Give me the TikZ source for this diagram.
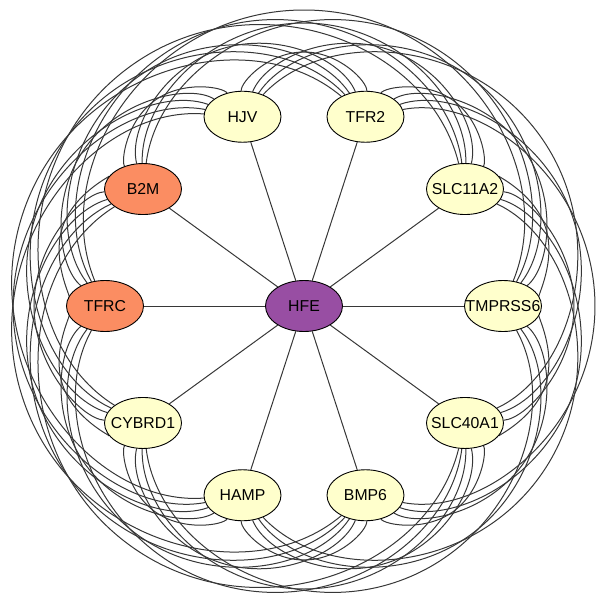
\documentclass[tikz,border=0pt]{standalone}
\usepackage{fontspec}
\setmainfont{Liberation Sans}
\usetikzlibrary{shapes.geometric,backgrounds}
\definecolor{hfepurple}{RGB}{152,78,163}
\definecolor{coralfill}{RGB}{251,141,98}
\definecolor{paleyellow}{RGB}{255,255,204}
\definecolor{edgegray}{RGB}{55,55,55}
\begin{document}
\begin{tikzpicture}[x=1pt,y=1pt,
  gene/.style={ellipse, draw=black, line width=0.9pt, minimum width=77pt,
    minimum height=51pt, inner sep=0pt, font=\fontsize{15.8}{18}\selectfont},
  link/.style={draw=edgegray, line width=1pt}]
\useasboundingbox (-304,-300) rectangle (295,306);
\node[gene, fill=hfepurple] (hfe) at (0,0) {\makebox[0pt]{HFE}};
\foreach \k/\lab/\col in {0/TMPRSS6/paleyellow, 1/SLC11A2/paleyellow,
  2/TFR2/paleyellow, 3/HJV/paleyellow, 4/B2M/coralfill, 5/TFRC/coralfill,
  6/CYBRD1/paleyellow, 7/HAMP/paleyellow, 8/BMP6/paleyellow, 9/SLC40A1/paleyellow} {
  \node[gene, fill=\col] (n\k) at (36*\k:199pt) {\makebox[0pt]{\lab}};
}
\begin{scope}[on background layer]
\foreach \k in {0,...,9} \draw[link] (hfe) -- (n\k);
\foreach \i in {0,...,8} {
  \pgfmathtruncatemacro\ii{\i+1}
  \foreach \j in {\ii,...,9} {
    \pgfmathtruncatemacro\dd{\j-\i}
    \pgfmathtruncatemacro\mm{min(\dd,10-\dd)}
    \pgfmathtruncatemacro\st{(\dd<=5)*\i+(\dd>5)*\j}
    \pgfmathtruncatemacro\en{(\dd<=5)*\j+(\dd>5)*\i}
    \pgfmathsetmacro\tht{36*\mm}
    \pgfmathsetmacro\pa{36*\st+\tht/2}
    \pgfmathsetmacro\pk{{0,254,270,283,291,296}[\mm]}
    \pgfmathsetmacro\hc{199*sin(\tht/2)}
    \pgfmathsetmacro\hd{199*cos(\tht/2)}
    \pgfmathsetmacro\sg{\pk-\hd}
    \pgfmathsetmacro\rh{(\hc*(\hc/\sg)+\sg)/2}
    \pgfmathsetmacro\oc{\pk-\rh}
    \pgfmathsetmacro\gm{atan2(\hc,\hd-\oc)}
    \pgfmathsetmacro\kk{4/3*tan(\gm/4)*\rh}
    \pgfmathsetmacro\cx{\hc-\kk*cos(\gm)}
    \pgfmathsetmacro\cy{\hd+\kk*sin(\gm)}
    \begin{scope}[rotate=\pa-90]
      \draw[link] (n\st) .. controls (\cx,\cy) and (\kk,\pk) .. (0,\pk)
        .. controls (-\kk,\pk) and (-\cx,\cy) .. (n\en);
    \end{scope}
  }
}
\end{scope}
\end{tikzpicture}
\end{document}
